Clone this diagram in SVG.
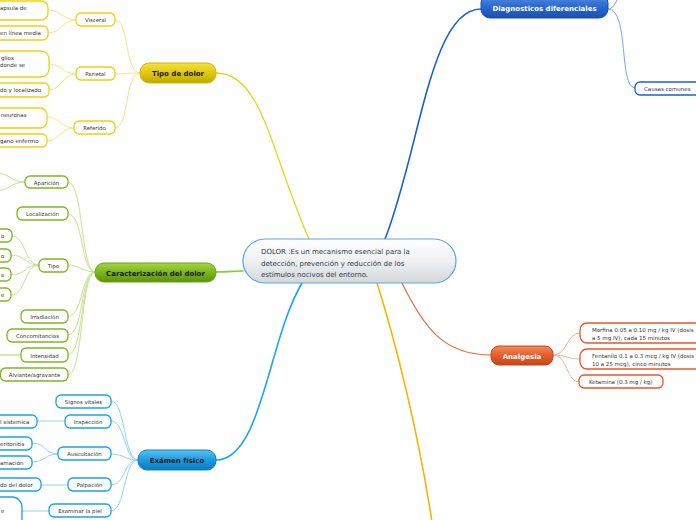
<svg xmlns="http://www.w3.org/2000/svg" width="696" height="520" viewBox="0 0 696 520">
<defs>
<linearGradient id="gC" x1="0" y1="0" x2="0" y2="1"><stop offset="0" stop-color="#ffffff"/><stop offset="0.5" stop-color="#eef0f2"/><stop offset="1" stop-color="#d3d8dc"/></linearGradient>
<linearGradient id="gY" x1="0" y1="0" x2="0" y2="1"><stop offset="0" stop-color="#f3e240"/><stop offset="0.5" stop-color="#e0c810"/><stop offset="1" stop-color="#bfa800"/></linearGradient>
<linearGradient id="gG" x1="0" y1="0" x2="0" y2="1"><stop offset="0" stop-color="#a4d447"/><stop offset="0.5" stop-color="#7cb51e"/><stop offset="1" stop-color="#5b9210"/></linearGradient>
<linearGradient id="gB" x1="0" y1="0" x2="0" y2="1"><stop offset="0" stop-color="#5cc0f2"/><stop offset="0.5" stop-color="#1d9ce0"/><stop offset="1" stop-color="#0b78c0"/></linearGradient>
<linearGradient id="gD" x1="0" y1="0" x2="0" y2="1"><stop offset="0" stop-color="#5a92e4"/><stop offset="0.5" stop-color="#2c6ad0"/><stop offset="1" stop-color="#1a4fb0"/></linearGradient>
<linearGradient id="gO" x1="0" y1="0" x2="0" y2="1"><stop offset="0" stop-color="#f58a5a"/><stop offset="0.5" stop-color="#e45e2a"/><stop offset="1" stop-color="#c84418"/></linearGradient>
</defs>
<style>
text{font-family:"DejaVu Sans",Verdana,sans-serif;}
.c{fill:none;stroke-linecap:round;}
.sub{fill:#ffffff;stroke-width:1.3;}
.st{font-size:5.4px;fill:#333333;text-anchor:middle;}
.lt{font-size:5.5px;fill:#333333;}
.main{font-size:7px;font-weight:bold;text-anchor:middle;}
.y{stroke:#efd20a;} .g{stroke:#7db91c;} .b{stroke:#1aa3e8;} .d{stroke:#1f5fd0;} .o{stroke:#e8582a;}
.cy{stroke:#f3e48c;stroke-width:1;} .cg{stroke:#c6e291;stroke-width:1;} .cb{stroke:#90d2f5;stroke-width:1;} .cd{stroke:#7aa6ea;stroke-width:1;} .co{stroke:#f6b294;stroke-width:1;}
</style>

<g id="connectors">
<path class="c" d="M216,73 C262,73 270,150 309,239" stroke="#e8d420" stroke-width="1.3"/>
<path class="c" d="M216,272 C228,272 236,271 243,271" stroke="#8cc63f" stroke-width="1.6"/>
<path class="c" d="M216,460 C262,460 268,340 302,283" stroke="#1aa8e8" stroke-width="1.6"/>
<path class="c" d="M385,239 C420,150 430,9 481,9" stroke="#1a5fd2" stroke-width="1.6"/>
<path class="c" d="M402,283 C425,330 445,355 491,355" stroke="#ec6436" stroke-width="1.1"/>
<path class="c" d="M377,283 C395,340 418,430 432,522" stroke="#f7b500" stroke-width="1.6"/>
<path class="c cy" d="M140,73 C124,73 130,20 115,20"/>
<path class="c cy" d="M140,73 C128,73 125,74 115,74"/>
<path class="c cy" d="M140,73 C124,73 130,128 115,128"/>
<path class="c cy" d="M76,20 C62,20 62,10 48,10"/>
<path class="c cy" d="M76,20 C62,20 62,33 48,33"/>
<path class="c cy" d="M76,74 C62,74 62,64 49,64"/>
<path class="c cy" d="M76,74 C62,74 62,90 49,90"/>
<path class="c cy" d="M74,128 C60,128 60,117 47,117"/>
<path class="c cy" d="M74,128 C60,128 60,141 47,141"/>
<path class="c cg" d="M95,272 C80,272 84,182 68,182"/>
<path class="c cg" d="M95,272 C80,272 84,214 68,214"/>
<path class="c cg" d="M95,272 C82,272 80,265 68,265"/>
<path class="c cg" d="M95,272 C80,272 84,316 68,316"/>
<path class="c cg" d="M95,272 C80,272 84,335 68,335"/>
<path class="c cg" d="M95,272 C80,272 84,355 68,355"/>
<path class="c cg" d="M95,272 C80,272 84,375 68,375"/>
<path class="c cg" d="M25,182 C10,182 10,173 -5,173"/>
<path class="c cg" d="M25,182 C10,182 10,191 -5,191"/>
<path class="c cg" d="M39,265 C24,265 26,236 12,236"/>
<path class="c cg" d="M39,265 C24,265 26,255 11,255"/>
<path class="c cg" d="M39,265 C24,265 26,275 11,275"/>
<path class="c cg" d="M39,265 C24,265 26,295 11,295"/>
<path class="c" d="M21,355 L-5,355" stroke="#c6e291" stroke-width="1.5"/>
<path class="c cb" d="M138,460 C123,460 126,401 111,401"/>
<path class="c cb" d="M138,460 C123,460 126,421 111,421"/>
<path class="c cb" d="M138,460 C124,460 125,454 111,454"/>
<path class="c cb" d="M138,460 C123,460 126,485 111,485"/>
<path class="c cb" d="M138,460 C123,460 126,511 111,511"/>
<path class="c cb" d="M65,421 L37,421"/>
<path class="c cb" d="M58,454 C44,454 46,443 32,443"/>
<path class="c cb" d="M58,454 C44,454 46,462 32,462"/>
<path class="c cb" d="M68,485 L41,485"/>
<path class="c cb" d="M49,511 L22,511"/>
<path class="c cd" d="M608,9 C613,9 615,4 618,-2"/>
<path class="c cd" d="M608,9 C630,9 618,88 635,88"/>
<path class="c co" d="M553,355 C568,355 566,333 580,333"/>
<path class="c co" d="M553,355 C566,355 568,359 580,359"/>
<path class="c co" d="M553,355 C568,355 566,382 579,382"/>
</g>

<g id="central">
<rect x="243" y="239" width="213" height="44" rx="22" fill="url(#gC)" stroke="#5fa3dc" stroke-width="1.2"/>
<text x="261" y="254" font-size="7" fill="#333a48">DOLOR :Es un mecanismo esencial para la</text>
<text x="261" y="266" font-size="7" fill="#333a48">detección, prevención y reducción de los</text>
<text x="261" y="277" font-size="7" fill="#333a48">estímulos nocivos del entorno.</text>
</g>

<g id="tipo-de-dolor">
<rect x="140" y="63" width="76" height="20" rx="9" fill="url(#gY)" stroke="#d0b800" stroke-width="1"/>
<text class="main" x="178" y="76" fill="#1a1a1a">Tipo de dolor</text>
</g>
<g id="visceral"><rect class="sub y" x="76" y="13" width="39" height="13" rx="5"/><text class="st" x="95.5" y="22">Visceral</text></g>
<g id="parietal"><rect class="sub y" x="76" y="67" width="39" height="13" rx="5"/><text class="st" x="95.5" y="76">Parietal</text></g>
<g id="referido"><rect class="sub y" x="74" y="121" width="41" height="13" rx="5"/><text class="st" x="94.5" y="130">Referido</text></g>
<g id="leaf-capsula"><rect class="sub y" x="-40" y="1" width="88" height="19" rx="7"/><text class="lt" x="0" y="10">apsula de</text></g>
<g id="leaf-linea"><rect class="sub y" x="-40" y="26" width="88" height="14" rx="5"/><text class="lt" x="0" y="35">en línea media</text></g>
<g id="leaf-glios"><rect class="sub y" x="-40" y="51" width="89" height="26" rx="8"/><text class="lt" x="1" y="60">glios</text><text class="lt" x="0" y="67">donde se</text></g>
<g id="leaf-localizado"><rect class="sub y" x="-40" y="83" width="89" height="14" rx="5"/><text class="lt" x="0" y="92">do y localizado</text></g>
<g id="leaf-neuronas"><rect class="sub y" x="-40" y="108" width="87" height="20" rx="7"/><text class="lt" x="1" y="117">neuronas</text></g>
<g id="leaf-organo"><rect class="sub y" x="-40" y="134" width="87" height="13" rx="5"/><text class="lt" x="0" y="143">gano enfermo</text></g>

<g id="caracterizacion">
<rect x="95" y="263" width="121" height="19" rx="9" fill="url(#gG)" stroke="#6aa514" stroke-width="1"/>
<text class="main" x="155.5" y="276" fill="#1a1a1a">Caracterización del dolor</text>
</g>
<g id="aparicion"><rect class="sub g" x="25" y="176" width="43" height="12" rx="5"/><text class="st" x="46.5" y="184.5">Aparición</text></g>
<g id="localizacion"><rect class="sub g" x="17" y="207" width="51" height="13" rx="5"/><text class="st" x="42.5" y="216">Localización</text></g>
<g id="tipo"><rect class="sub g" x="39" y="259" width="29" height="13" rx="5"/><text class="st" x="53.5" y="268">Tipo</text></g>
<g id="irradiacion"><rect class="sub g" x="21" y="310" width="47" height="13" rx="5"/><text class="st" x="44.5" y="319">Irradiación</text></g>
<g id="concomitancias"><rect class="sub g" x="7" y="329" width="61" height="13" rx="5"/><text class="st" x="37.5" y="338">Concomitancias</text></g>
<g id="intensidad"><rect class="sub g" x="21" y="348" width="47" height="14" rx="5"/><text class="st" x="44.5" y="357.5">Intensidad</text></g>
<g id="aliviante"><rect class="sub g" x="0.5" y="368" width="67.5" height="13" rx="5"/><text class="st" x="34.5" y="377">Alviante/agravante</text></g>
<g id="tipo-leaf-1"><rect class="sub g" x="-40" y="229" width="52" height="13" rx="5"/><text class="lt" x="1" y="238">o</text></g>
<g id="tipo-leaf-2"><rect class="sub g" x="-40" y="249" width="51" height="13" rx="5"/><text class="lt" x="1" y="258">o</text></g>
<g id="tipo-leaf-3"><rect class="sub g" x="-40" y="268" width="51" height="13" rx="5"/><text class="lt" x="1" y="277">e</text></g>
<g id="tipo-leaf-4"><rect class="sub g" x="-40" y="288" width="51" height="13" rx="5"/><text class="lt" x="1" y="297">e</text></g>

<g id="examen-fisico">
<rect x="138" y="450" width="78" height="20" rx="9" fill="url(#gB)" stroke="#0a82c8" stroke-width="1"/>
<text class="main" x="177" y="463" fill="#1a1a1a">Exámen físico</text>
</g>
<g id="signos-vitales"><rect class="sub b" x="56" y="395" width="55" height="13" rx="5"/><text class="st" x="83.5" y="404">Signos vitales</text></g>
<g id="inspeccion"><rect class="sub b" x="65" y="415" width="46" height="13" rx="5"/><text class="st" x="88" y="424">Inspección</text></g>
<g id="auscultacion"><rect class="sub b" x="58" y="447" width="53" height="13" rx="5"/><text class="st" x="84.5" y="456">Auscultación</text></g>
<g id="palpacion"><rect class="sub b" x="68" y="478" width="43" height="13" rx="5"/><text class="st" x="89.5" y="487">Palpación</text></g>
<g id="examinar-piel"><rect class="sub b" x="49" y="504" width="62" height="13" rx="5"/><text class="st" x="80" y="513">Examinar la piel</text></g>
<g id="leaf-sistemica"><rect class="sub b" x="-40" y="415" width="77" height="13" rx="5"/><text class="lt" x="0" y="424">l sistemica</text></g>
<g id="leaf-peritonitis"><rect class="sub b" x="-40" y="437" width="72" height="13" rx="5"/><text class="lt" x="0" y="446">eritonitis</text></g>
<g id="leaf-inflamacion"><rect class="sub b" x="-40" y="456" width="72" height="13" rx="5"/><text class="lt" x="0" y="465">amación</text></g>
<g id="leaf-dolor"><rect class="sub b" x="-40" y="478" width="81" height="13" rx="5"/><text class="lt" x="0" y="487">do del dolor</text></g>
<g id="leaf-piel"><rect class="sub b" x="-40" y="497" width="62" height="40" rx="10"/><text class="lt" x="1" y="513">e</text></g>

<g id="diagnosticos">
<rect x="481" y="-6" width="127" height="24" rx="9" fill="url(#gD)" stroke="#1a4fb0" stroke-width="1"/>
<text class="main" x="544.5" y="11" fill="#ffffff">Diagnosticos diferenciales</text>
</g>
<g id="causas-comunes"><rect class="sub d" x="635" y="82" width="70" height="13" rx="5"/><text class="lt" x="644" y="91" font-size="5.4">Causas comunes</text></g>

<g id="analgesia">
<rect x="491" y="346" width="62" height="19" rx="8" fill="url(#gO)" stroke="#c8441a" stroke-width="1"/>
<text class="main" x="522" y="359" fill="#ffffff">Analgesia</text>
</g>
<g id="morfina"><rect class="sub o" x="580" y="323" width="125" height="20" rx="7"/><text class="lt" x="592" y="332">Morfina 0.05 a 0.10 mg / kg IV (dosis</text><text class="lt" x="592" y="339.5">a 5 mg IV), cada 15 minutos</text></g>
<g id="fentanilo"><rect class="sub o" x="580" y="349" width="125" height="20" rx="7"/><text class="lt" x="592" y="358">Fentanilo 0.1 a 0.3 mcg / kg IV (dosis</text><text class="lt" x="592" y="365.5">10 a 25 mcg), cinco minutos</text></g>
<g id="ketamina"><rect class="sub o" x="579" y="375" width="84" height="13" rx="5"/><text class="lt" x="589" y="384">Ketamina (0.3 mg / kg)</text></g>
</svg>
